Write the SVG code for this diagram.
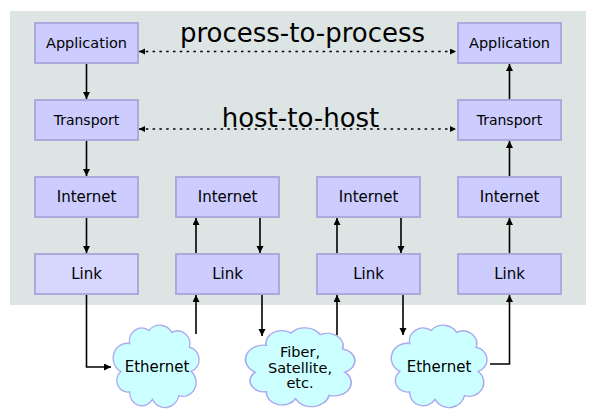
<svg xmlns="http://www.w3.org/2000/svg" width="596" height="418" viewBox="0 0 596 418">
<style>
.box{fill:#ccccff;stroke:#aaaadd;stroke-width:2}
.box.light{fill:#d6d6ff}
.lbl{font-family:"DejaVu Sans",Verdana,sans-serif;font-size:15px;fill:#000;text-anchor:middle}
.sm{font-size:14px}
.app{font-size:14.5px}
.cl2{font-size:14.5px}
.big{font-family:"DejaVu Sans",Verdana,sans-serif;font-size:26px;fill:#000;text-anchor:middle}
.cloud{fill:#ccffff;stroke:#aaaaee;stroke-width:1.5}
.conn{fill:none;stroke:#000;stroke-width:1.6;marker-end:url(#ah)}
.dot{fill:none;stroke:#000;stroke-width:1.7;stroke-dasharray:2.5 4.3;marker-start:url(#dh);marker-end:url(#dh)}
</style>
<defs>
<marker id="ah" markerUnits="userSpaceOnUse" markerWidth="8" markerHeight="8" refX="7" refY="3.5" orient="auto">
<path d="M0,0 L7,3.5 L0,7 z" fill="#000"/>
</marker>
<marker id="dh" markerUnits="userSpaceOnUse" markerWidth="7" markerHeight="7" refX="6" refY="3" orient="auto-start-reverse">
<path d="M0,0 L6,3 L0,6 z" fill="#000"/>
</marker>
<path id="cl" d="M-30,-22 A14 14 0 0 1 -8,-36 A16 16 0 0 1 18,-34 A14 14 0 0 1 38,-18 A13.5 13.5 0 0 1 40,8 A15 15 0 0 1 26,34 A16 16 0 0 1 -4,38 A14 14 0 0 1 -30,30 A12.5 12.5 0 0 1 -40,8 A16 16 0 0 1 -30,-22 Z"/>
</defs>
<rect x="10" y="11" width="576" height="294" fill="#dde4e4"/>

<g id="connectors">
<path class="conn" d="M86.5,64 V99"/>
<path class="conn" d="M86.5,141 V176"/>
<path class="conn" d="M86.5,218 V253"/>
<path class="conn" d="M86.5,295 V367 H111"/>
<path class="conn" d="M196,254 V218"/>
<path class="conn" d="M260,218 V253"/>
<path class="conn" d="M196,334 V295"/>
<path class="conn" d="M262,295 V336"/>
<path class="conn" d="M337,254 V218"/>
<path class="conn" d="M401,218 V253"/>
<path class="conn" d="M337,335 V295"/>
<path class="conn" d="M403,295 V335"/>
<path class="conn" d="M490,364 H509.5 V295"/>
<path class="conn" d="M509.5,254 V218"/>
<path class="conn" d="M509.5,177 V141"/>
<path class="conn" d="M509.5,100 V64"/>
<path class="dot" d="M139,51.5 H456"/>
<path class="dot" d="M139,129 H456"/>
</g>

<text class="big" x="302.5" y="41.5">process-to-process</text>
<text class="big" x="300.5" y="126.5">host-to-host</text>

<g id="app1"><rect class="box" x="35" y="23" width="103" height="40"/><text class="lbl app" x="86.5" y="48">Application</text></g>
<g id="trans1"><rect class="box" x="35" y="100" width="103" height="40"/><text class="lbl sm" x="86.5" y="125">Transport</text></g>
<g id="inet1"><rect class="box" x="35" y="177" width="103" height="40"/><text class="lbl" x="86.5" y="202">Internet</text></g>
<g id="link1"><rect class="box light" x="35" y="254" width="103" height="40"/><text class="lbl" x="86.5" y="279">Link</text></g>

<g id="inet2"><rect class="box" x="176" y="177" width="103" height="40"/><text class="lbl" x="227.5" y="202">Internet</text></g>
<g id="link2"><rect class="box" x="176" y="254" width="103" height="40"/><text class="lbl" x="227.5" y="279">Link</text></g>

<g id="inet3"><rect class="box" x="317" y="177" width="103" height="40"/><text class="lbl" x="368.5" y="202">Internet</text></g>
<g id="link3"><rect class="box" x="317" y="254" width="103" height="40"/><text class="lbl" x="368.5" y="279">Link</text></g>

<g id="app4"><rect class="box" x="458" y="23" width="103" height="40"/><text class="lbl app" x="509.5" y="48">Application</text></g>
<g id="trans4"><rect class="box" x="458" y="100" width="103" height="40"/><text class="lbl sm" x="509.5" y="125">Transport</text></g>
<g id="inet4"><rect class="box" x="458" y="177" width="103" height="40"/><text class="lbl" x="509.5" y="202">Internet</text></g>
<g id="link4"><rect class="box" x="458" y="254" width="103" height="40"/><text class="lbl" x="509.5" y="279">Link</text></g>

<g id="cloud1"><use href="#cl" class="cloud" transform="translate(156,364) scale(0.88,0.93)"/><text class="lbl" x="157" y="372">Ethernet</text></g>
<g id="cloud2"><use href="#cl" class="cloud" transform="translate(300,365) scale(1.12,0.89)"/><text class="lbl cl2" x="300" y="357">Fiber,</text><text class="lbl cl2" x="300" y="372.5">Satellite,</text><text class="lbl cl2" x="300" y="388">etc.</text></g>
<g id="cloud3"><use href="#cl" class="cloud" transform="translate(439,364) scale(0.98,0.93)"/><text class="lbl" x="439" y="372">Ethernet</text></g>
</svg>
